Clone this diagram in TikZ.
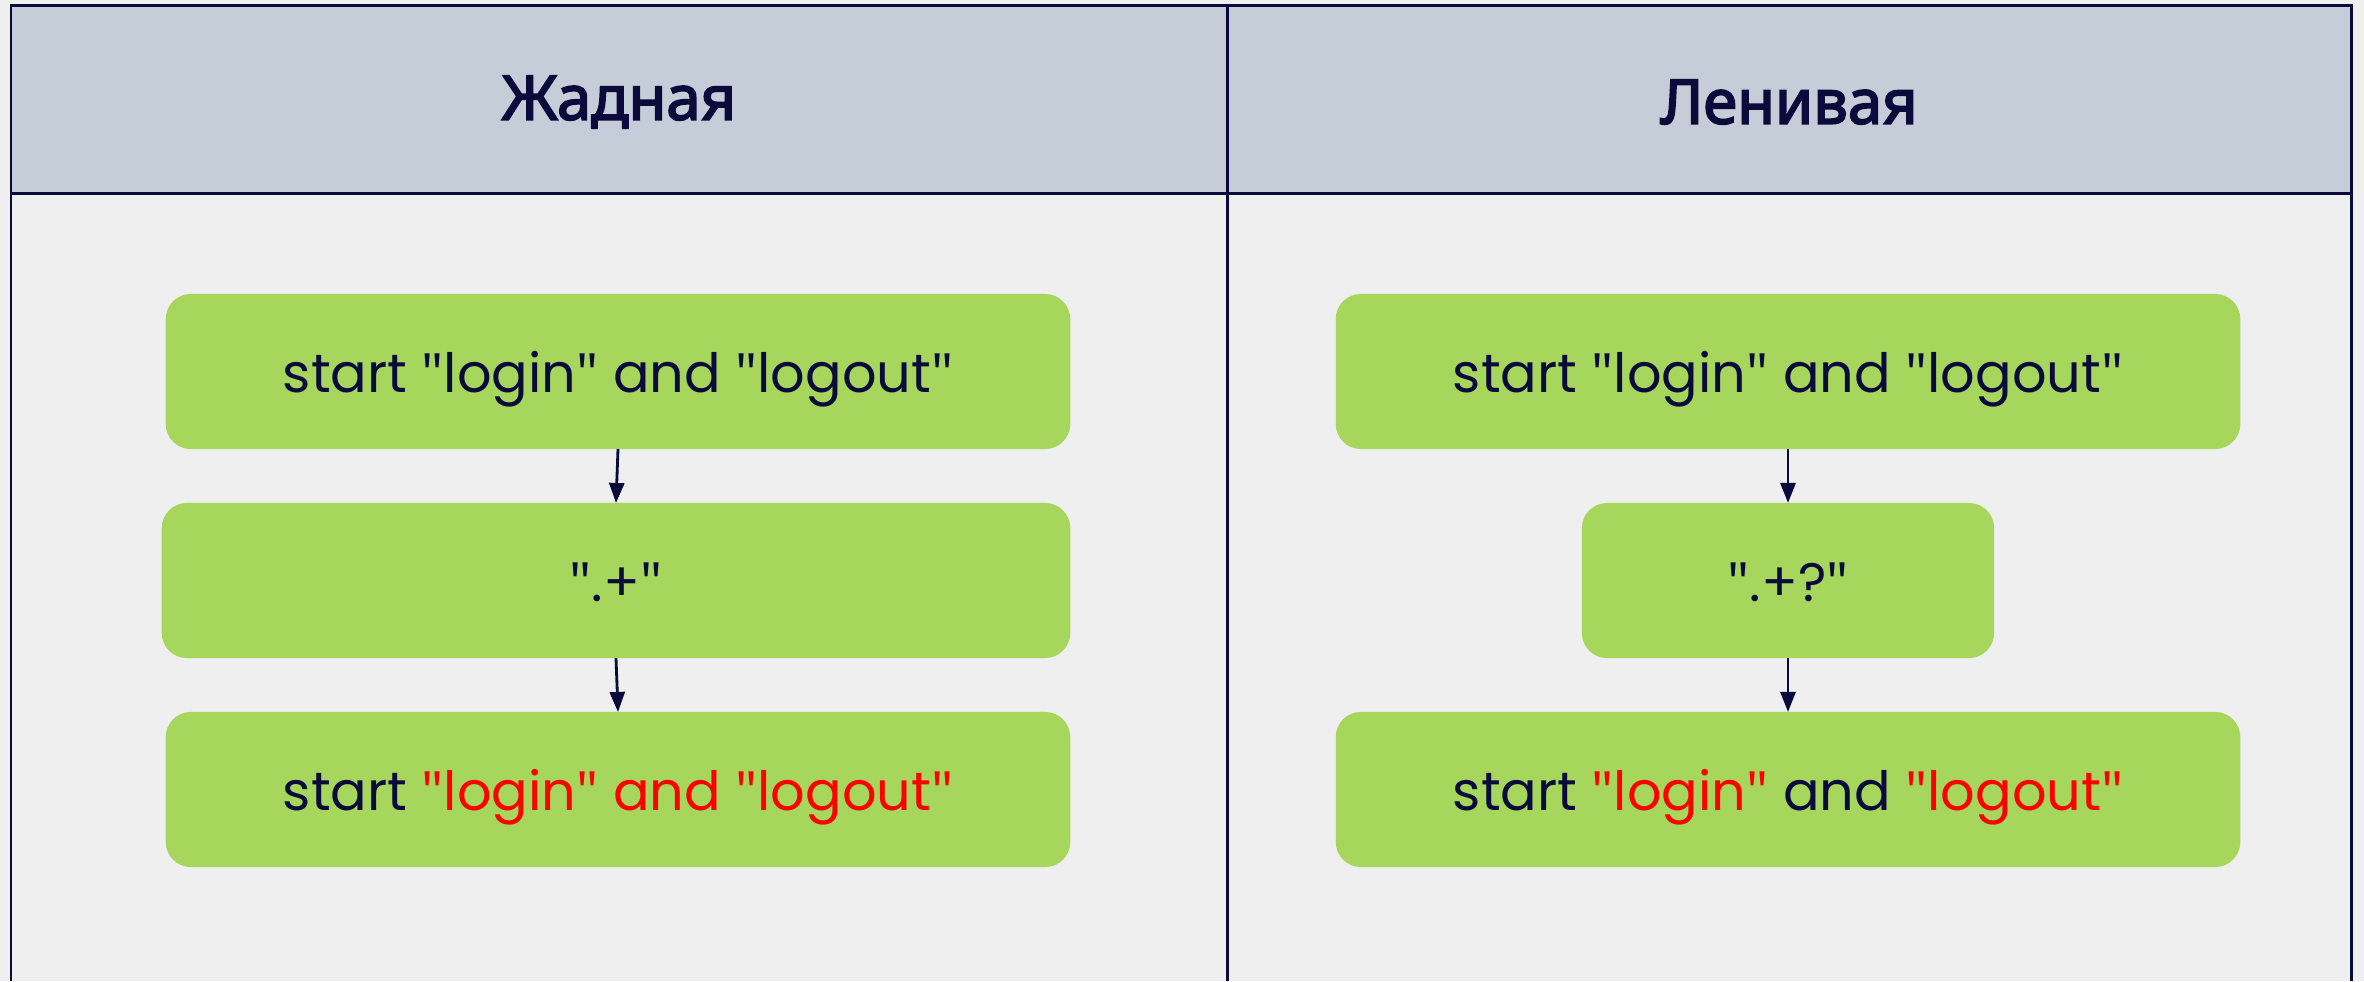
\documentclass[tikz,border=0pt]{standalone}
\usepackage{fontspec}
\setmainfont{Poppins}
\newfontfamily\hdfont{Noto Sans}[AutoFakeBold=3]
\newfontfamily\qfont{Noto Sans}
\newcommand{\qq}{{\qfont"}}
\usetikzlibrary{arrows.meta}
\definecolor{bgc}{HTML}{EFEFEF}
\definecolor{hdrc}{HTML}{C5CDD8}
\definecolor{navy}{HTML}{0B0B3B}
\definecolor{grn}{HTML}{A6D75C}
\definecolor{hl}{HTML}{FF0000}
\tikzset{
  frame/.style={draw=navy, line width=0.85pt},
  box/.style={fill=grn, rounded corners=0.25cm, inner sep=0pt, outer sep=0pt,
    minimum height=1.55cm, text=navy, text height=0.5cm, text depth=0.09cm,
    font=\fontsize{15.4}{19}\selectfont},
  hdr/.style={text=navy, font=\hdfont\bfseries\fontsize{17.5}{20}\selectfont},
  conn/.style={draw=navy, line width=0.8pt, -{Triangle[length=0.2cm,width=0.15cm]}}
}
\begin{document}
\begin{tikzpicture}[x=0.01cm,y=-0.01cm]
\useasboundingbox (0,0) rectangle (2364,981);
\fill[bgc] (0,0) rectangle (2364,981);
\fill[hdrc] (11,5) rectangle (2351,193);
\draw[frame] (11,981) -- (11,5) -- (2351,5) -- (2351,981);
\draw[frame] (11,193) -- (2351,193);
\draw[frame] (1227,5) -- (1227,981);
\node[hdr] (h1) at (619,102) {Жадная};
\node[hdr] (h2) at (1789,102) {Ленивая};
% left column
\node[box, minimum width=9.04cm] (l1) at (618,371.5) {start \qq login\qq{} and \qq logout\qq};
\node[box, minimum width=9.08cm] (l2) at (616,580.5) {\qq.+\qq};
\node[box, minimum width=9.04cm] (l3) at (618,789.5) {start {\color{hl}\qq login\qq{} and \qq logout\qq}};
% right column
\node[box, minimum width=9.04cm] (r1) at (1788,371.5) {start \qq login\qq{} and \qq logout\qq};
\node[box, minimum width=4.12cm] (r2) at (1788,580.5) {\qq.+?\qq};
\node[box, minimum width=9.04cm] (r3) at (1788,789.5) {start {\color{hl}\qq login\qq} and {\color{hl}\qq logout\qq}};
\draw[conn] (l1.south) -- (l2.north);
\draw[conn] (l2.south) -- (l3.north);
\draw[conn] (r1.south) -- (r2.north);
\draw[conn] (r2.south) -- (r3.north);
\end{tikzpicture}
\end{document}
